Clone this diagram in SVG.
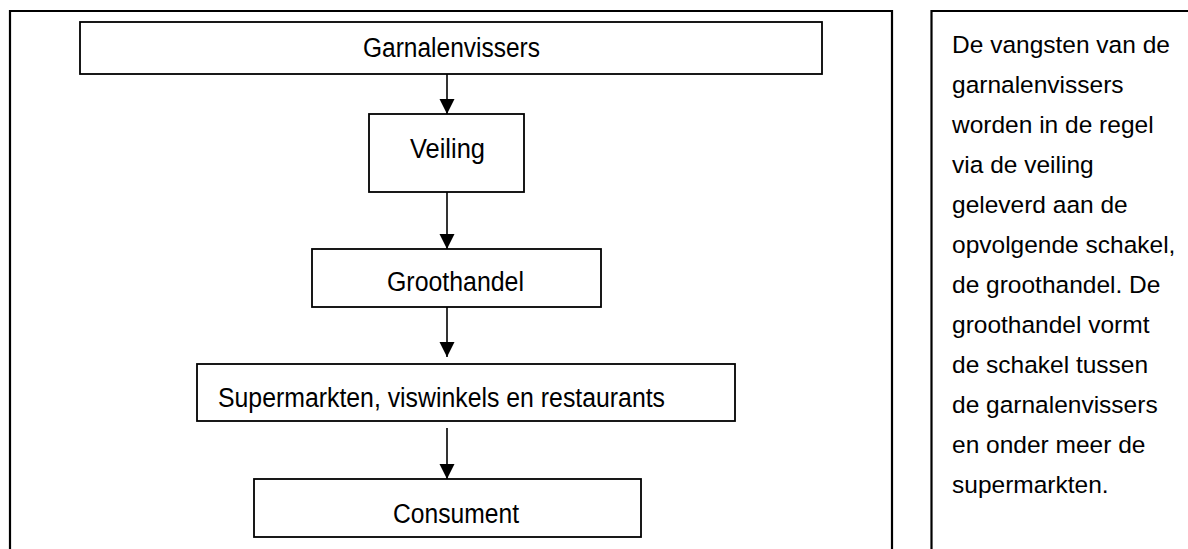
<svg xmlns="http://www.w3.org/2000/svg" width="1188" height="549" viewBox="0 0 1188 549">
<defs>
<marker id="ah" markerUnits="userSpaceOnUse" markerWidth="16" markerHeight="16" refX="15" refY="7.5" orient="auto">
<path d="M0,0 L15,7.5 L0,15 Z" fill="#000"/>
</marker>
<style>
.frame{fill:none;stroke:#000;stroke-width:2.2}
.box{fill:#fff;stroke:#000;stroke-width:1.8}
.lbl{font-family:"Liberation Sans",Arial,sans-serif;font-size:27px;fill:#000}
.note{font-family:"Liberation Sans",Arial,sans-serif;font-size:24.5px;fill:#000}
.conn{stroke:#000;stroke-width:1.6;fill:none}
</style>
</defs>
<rect width="1188" height="549" fill="#fff"/>
<g id="frames">
<path class="frame" d="M10,549 L10,11 L892,11 L892,549"/>
<path class="frame" d="M931.5,549 L931.5,11 L1188,11"/>
</g>
<g id="connectors">
<line class="conn" x1="447" y1="74" x2="447" y2="114" marker-end="url(#ah)"/>
<line class="conn" x1="447" y1="192" x2="447" y2="249" marker-end="url(#ah)"/>
<line class="conn" x1="447" y1="307" x2="447" y2="357" marker-end="url(#ah)"/>
<line class="conn" x1="447" y1="428" x2="447" y2="479" marker-end="url(#ah)"/>
</g>
<g id="node-garnalenvissers">
<rect class="box" x="80" y="22" width="742" height="52"/>
<text class="lbl" x="363" y="56.5" textLength="177" lengthAdjust="spacingAndGlyphs">Garnalenvissers</text>
</g>
<g id="node-veiling">
<rect class="box" x="369" y="114" width="155" height="78"/>
<text class="lbl" x="410" y="158" textLength="75" lengthAdjust="spacingAndGlyphs">Veiling</text>
</g>
<g id="node-groothandel">
<rect class="box" x="312" y="249" width="289" height="58"/>
<text class="lbl" x="387" y="290.5" textLength="137" lengthAdjust="spacingAndGlyphs">Groothandel</text>
</g>
<g id="node-supermarkten">
<rect class="box" x="197" y="364" width="538" height="57"/>
<text class="lbl" x="218" y="407" textLength="447" lengthAdjust="spacingAndGlyphs">Supermarkten, viswinkels en restaurants</text>
</g>
<g id="node-consument">
<rect class="box" x="254" y="479" width="387" height="58"/>
<text class="lbl" x="393" y="522.5" textLength="126" lengthAdjust="spacingAndGlyphs">Consument</text>
</g>
<g id="note">
<text class="note">
<tspan x="952" y="53">De vangsten van de</tspan>
<tspan x="952" y="93">garnalenvissers</tspan>
<tspan x="952" y="133">worden in de regel</tspan>
<tspan x="952" y="173">via de veiling</tspan>
<tspan x="952" y="213">geleverd aan de</tspan>
<tspan x="952" y="253">opvolgende schakel,</tspan>
<tspan x="952" y="293">de groothandel. De</tspan>
<tspan x="952" y="333">groothandel vormt</tspan>
<tspan x="952" y="373">de schakel tussen</tspan>
<tspan x="952" y="413">de garnalenvissers</tspan>
<tspan x="952" y="453">en onder meer de</tspan>
<tspan x="952" y="493">supermarkten.</tspan>
</text>
</g>
</svg>
